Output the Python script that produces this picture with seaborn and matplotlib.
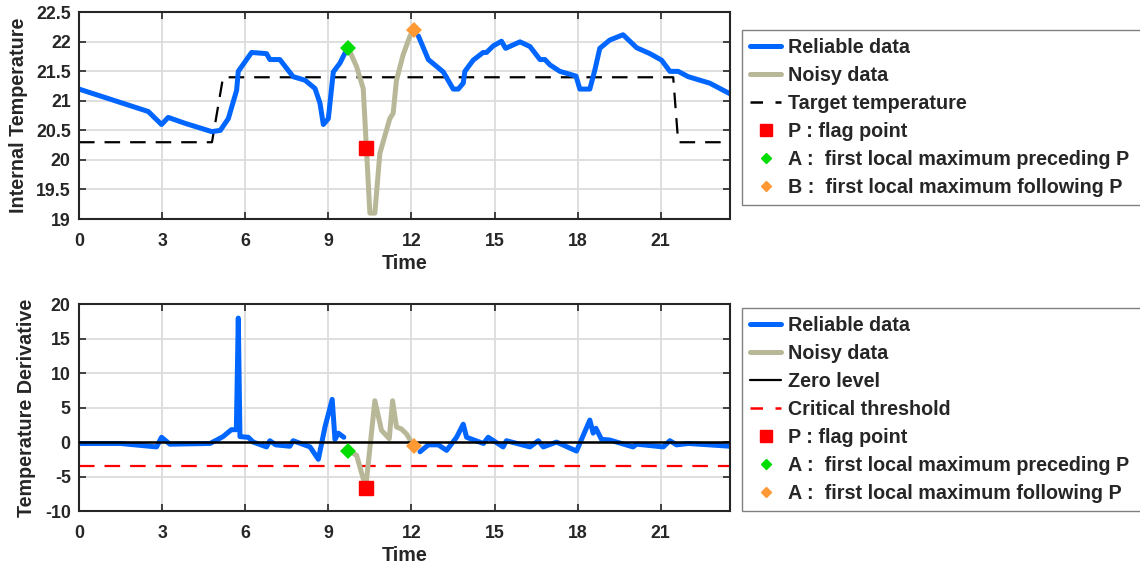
import numpy as np
import pandas as pd
import matplotlib
matplotlib.use("Agg")
import matplotlib.pyplot as plt
import seaborn as sns
from matplotlib.lines import Line2D

# ---- top panel: internal temperature ----
t_rel1 = [0, 2.5, 2.98, 3.22, 3.83, 4.79, 5.1, 5.39, 5.69, 5.75, 6.23, 6.77, 6.89, 7.25,
          7.73, 8.16, 8.52, 8.70, 8.82, 9.0, 9.18, 9.42, 9.6]
temp_rel1 = [21.2, 20.82, 20.6, 20.72, 20.62, 20.48, 20.5, 20.7, 21.18, 21.5, 21.82, 21.8, 21.7, 21.7,
             21.41, 21.35, 21.21, 20.96, 20.6, 20.7, 21.49, 21.64, 21.81]
t_noisy = [9.72, 10.02, 10.26, 10.5, 10.68, 10.86, 11.22, 11.34, 11.46, 11.7, 11.95, 12.09]
temp_noisy = [21.9, 21.58, 21.21, 19.1, 19.1, 20.11, 20.7, 20.79, 21.35, 21.78, 22.1, 22.2]
t_rel2 = [12.25, 12.61, 13.15, 13.51, 13.69, 13.87, 13.93, 14.23, 14.59, 14.71, 14.95, 15.25, 15.40,
          15.92, 16.28, 16.64, 16.82, 17.0, 17.36, 17.94, 18.08, 18.44, 18.62, 18.8, 19.16, 19.64,
          20.13, 20.61, 21.03, 21.33, 21.63, 21.99, 22.77, 23.5]
temp_rel2 = [22.1, 21.7, 21.49, 21.2, 21.2, 21.3, 21.5, 21.69, 21.82, 21.82, 21.93, 22.01, 21.89,
             22.0, 21.92, 21.7, 21.7, 21.61, 21.5, 21.42, 21.2, 21.2, 21.52, 21.89, 22.03, 22.12,
             21.9, 21.8, 21.69, 21.5, 21.5, 21.41, 21.3, 21.12]
t_target = [0, 4.8, 5.2, 21.45, 21.63, 23.5]
temp_target = [20.3, 20.3, 21.4, 21.4, 20.3, 20.3]
temp_flags = {"P": (10.35, 20.2), "A": (9.72, 21.9), "B": (12.09, 22.2)}

# ---- bottom panel: temperature derivative ----
t_drel1 = [0, 1.5, 2.8, 2.98, 3.28, 4.73, 4.97, 5.2, 5.5, 5.68, 5.75, 5.81, 6.11, 6.29, 6.77, 6.89,
           7.1, 7.61, 7.73, 8.34, 8.64, 8.88, 9.14, 9.24, 9.36, 9.56]
deriv_rel1 = [-0.2, -0.2, -0.7, 0.7, -0.3, -0.2, 0.3, 0.8, 1.8, 1.8, 18.0, 0.8, 0.7, 0.0, -0.7, 0.2,
              -0.4, -0.6, 0.2, -0.7, -2.5, 2.2, 6.2, 0.4, 1.3, 0.7]
t_dnoisy = [9.72, 10.02, 10.35, 10.68, 10.92, 11.2, 11.32, 11.46, 11.64, 11.82, 12.09]
deriv_noisy = [-1.3, -1.9, -6.6, 6.0, 1.7, 0.5, 6.0, 2.2, 1.9, 1.2, -0.6]
t_drel2 = [12.31, 12.61, 12.97, 13.27, 13.63, 13.87, 13.99, 14.6, 14.77, 15.31, 15.43, 16.28, 16.58,
           16.76, 17.24, 17.96, 18.44, 18.56, 18.66, 18.86, 19.16, 20.0, 20.13, 21.09, 21.33, 21.57,
           22.0, 23.5]
deriv_rel2 = [-1.4, -0.4, -0.4, -1.2, 0.7, 2.6, 0.7, -0.2, 0.7, -0.7, 0.2, -0.7, 0.2,
              -0.7, 0.0, -1.3, 3.2, 1.3, 2.0, 0.4, 0.3, -0.7, -0.3, -0.7, 0.2, -0.4,
              -0.2, -0.6]
zero_level = 0
critical_threshold = -3.5
deriv_flags = {"P": (10.35, -6.6), "A": (9.72, -1.3), "B": (12.09, -0.6)}

top_legend = ["Reliable data", "Noisy data", "Target temperature", "P : flag point",
              "A :  first local maximum preceding P", "B :  first local maximum following P"]
bottom_legend = ["Reliable data", "Noisy data", "Zero level", "Critical threshold", "P : flag point",
                 "A :  first local maximum preceding P", "A :  first local maximum following P"]

blue = "#0066ff"
noisy_c = "#b8b898"
green = "#00dd00"
orange = "#ff9933"
red = "#ff0000"
dark = "#262626"

sns.set_style("whitegrid")
plt.rcParams["font.family"] = ["Liberation Sans", "DejaVu Sans"]
plt.rcParams["font.weight"] = "bold"
plt.rcParams["axes.unicode_minus"] = False

fig = plt.figure(figsize=(11.4, 5.7), dpi=100)
ax1 = fig.add_axes([79 / 1140, 1 - 219 / 570, 651 / 1140, 206.7 / 570])
ax2 = fig.add_axes([79 / 1140, 1 - 511 / 570, 651 / 1140, 206.7 / 570])

lw = 3.6
label_fs = 14.2
tick_fs = 12.8
legend_fs = 14.2


def seg(ax, x, y, color, **kw):
    sns.lineplot(x=x, y=y, ax=ax, color=color, sort=False, estimator=None, **kw)


def flags(ax, fl):
    ax.plot(*fl["P"], "s", color=red, markersize=10, zorder=5)
    ax.plot(*fl["A"], "D", color=green, markersize=8.5, markeredgewidth=0, zorder=5)
    ax.plot(*fl["B"], "D", color=orange, markersize=8.5, markeredgewidth=0, zorder=5)


# top
seg(ax1, t_target, temp_target, "black", linewidth=1.6, dashes=(7, 4.5))
seg(ax1, t_rel1, temp_rel1, blue, linewidth=lw)
seg(ax1, t_noisy, temp_noisy, noisy_c, linewidth=lw)
seg(ax1, t_rel2, temp_rel2, blue, linewidth=lw)
flags(ax1, temp_flags)
ax1.set_ylim(19, 22.5)
ax1.set_yticks(np.arange(19, 22.51, 0.5))
ax1.set_yticklabels(["19", "19.5", "20", "20.5", "21", "21.5", "22", "22.5"])
ax1.set_ylabel("Internal Temperature", fontsize=label_fs, fontweight="bold", labelpad=6)

# bottom
ax2.axhline(zero_level, color="black", linewidth=1.8, zorder=3)
ax2.axhline(critical_threshold, color=red, linewidth=1.6, dashes=(7, 4.5))
seg(ax2, t_drel1, deriv_rel1, blue, linewidth=lw)
seg(ax2, t_dnoisy, deriv_noisy, noisy_c, linewidth=lw)
seg(ax2, t_drel2, deriv_rel2, blue, linewidth=lw)
flags(ax2, deriv_flags)
ax2.set_ylim(-10, 20)
ax2.set_yticks(np.arange(-10, 21, 5))
ax2.set_ylabel("Temperature Derivative", fontsize=label_fs, fontweight="bold", labelpad=6)

for ax in (ax1, ax2):
    ax.set_xlim(0, 23.5)
    ax.set_xticks(np.arange(0, 22, 3))
    ax.set_xlabel("Time", fontsize=label_fs, fontweight="bold", labelpad=3)
    ax.grid(True, color="#dcdcdc", linewidth=1.3)
    ax.set_axisbelow(True)
    for s in ax.spines.values():
        s.set_color(dark)
        s.set_linewidth(1.5)
        s.set_visible(True)
    ax.tick_params(direction="in", length=5, width=1.2, color=dark, labelcolor=dark,
                   labelsize=tick_fs, top=True, right=True, left=True, bottom=True)
    ax.tick_params(axis="x", pad=10)
    ax.tick_params(axis="y", pad=6)
    for lab in ax.get_xticklabels() + ax.get_yticklabels():
        lab.set_fontweight("bold")


def handles(kind):
    h = [Line2D([], [], color=blue, lw=lw), Line2D([], [], color=noisy_c, lw=lw)]
    if kind == "top":
        h.append(Line2D([], [], color="black", lw=1.8, dashes=(5, 5)))
    else:
        h.append(Line2D([], [], color="black", lw=1.6))
        h.append(Line2D([], [], color=red, lw=1.8, dashes=(5, 5)))
    h.append(Line2D([], [], color=red, marker="s", ls="none", markersize=8.5))
    h.append(Line2D([], [], color=green, marker="D", ls="none", markersize=5.5))
    h.append(Line2D([], [], color=orange, marker="D", ls="none", markersize=5.5))
    return h


# legends run past the right edge of the figure, as in the original
for kind, labels, top in (("top", top_legend, 30), ("bottom", bottom_legend, 308)):
    leg = fig.legend(handles(kind), labels, loc="upper left", mode="expand",
                     bbox_to_anchor=(742 / 1140, 1 - top / 570, 420 / 1140, 0), borderaxespad=0,
                     frameon=True, fancybox=False, edgecolor="#808080", framealpha=1,
                     prop={"size": legend_fs, "weight": "bold"}, labelspacing=0.46,
                     handlelength=1.6, handletextpad=0.35, borderpad=0.4)
    leg.get_frame().set_linewidth(1.0)

fig.savefig("out.png", dpi=100)
